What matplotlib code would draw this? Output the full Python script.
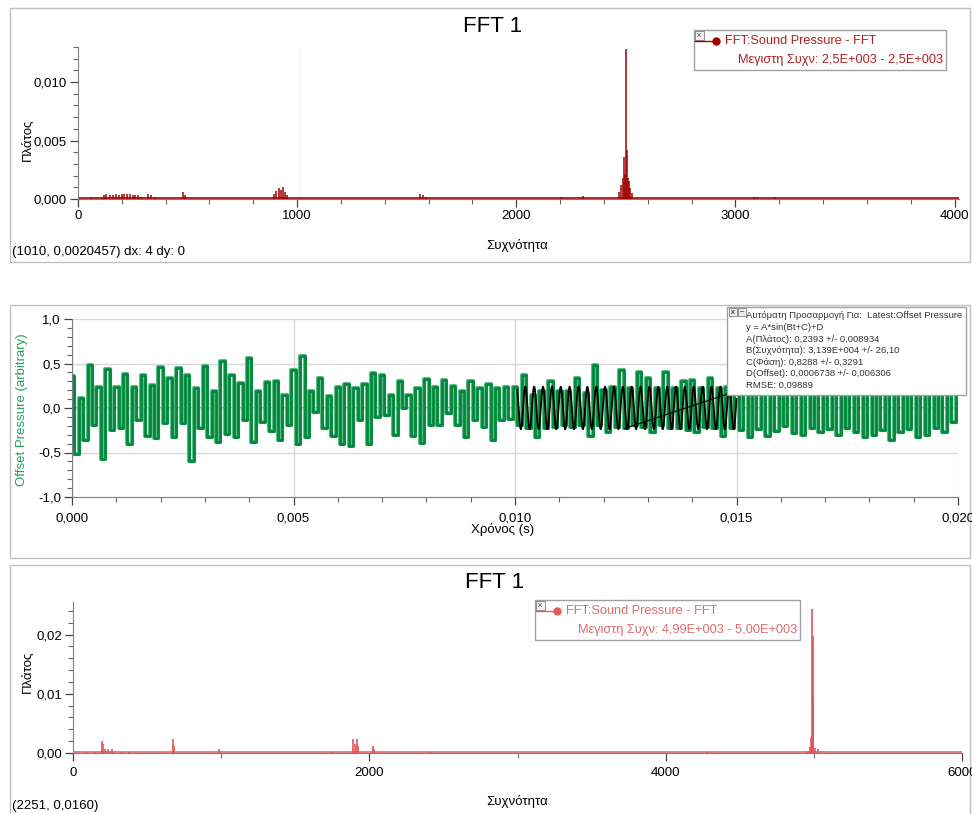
import matplotlib
matplotlib.use('Agg')
import matplotlib.pyplot as plt
from matplotlib.patches import Rectangle
from matplotlib.lines import Line2D
from matplotlib.ticker import MultipleLocator, FuncFormatter
import numpy as np

plt.rcParams['font.family'] = ['Liberation Sans', 'DejaVu Sans']

W, H = 972, 814

# ---- FFT 1 (top): spikes ----
top_freq = [60, 118, 130, 145, 160, 172, 185, 200, 212, 225, 238, 250, 262, 275, 288,
            318, 332, 350, 478, 490, 895, 905, 915, 925, 935, 945, 955,
            1560, 1572, 1590, 2205, 2305, 2468, 2479, 2486, 2490, 2496, 2500, 2503,
            2508, 2513, 2520, 2528, 3085, 3100, 3180]
top_amp = [0.00008, 0.0003, 0.0004, 0.00035, 0.0003, 0.0004, 0.00035, 0.0004, 0.00045, 0.0004,
           0.0004, 0.00035, 0.0003, 0.00035, 0.0002,
           0.0004, 0.00035, 0.0002, 0.0006, 0.0003, 0.0004, 0.0007, 0.00095, 0.0008, 0.001,
           0.0006, 0.0003,
           0.0004, 0.0003, 0.0002, 0.0002, 0.00025, 0.0006, 0.0012, 0.0018, 0.0036, 0.0021,
           0.0128, 0.0042, 0.0018, 0.0015, 0.0009, 0.0005, 0.0002, 0.0002, 0.00018]
top_floor = 0.00006

# ---- FFT 1 (bottom) ----
bot_freq = [90, 150, 194, 205, 215, 237, 264, 331, 378, 673, 680, 986, 1748,
            1892, 1905, 1915, 1926, 2022, 2030, 2412, 4281,
            4960, 4975, 4983, 4988, 4992, 4997, 5010, 5030]
bot_amp = [0.0002, 0.0002, 0.0021, 0.0016, 0.0007, 0.0006, 0.0006, 0.0002, 0.0002,
           0.0023, 0.0012, 0.0006, 0.0002,
           0.0024, 0.0015, 0.0023, 0.0011, 0.0011, 0.0006, 0.0002, 0.0002,
           0.0004, 0.0010, 0.0025, 0.0243, 0.0095, 0.0197, 0.0008, 0.0006]
bot_floor = 0.00012

# ---- Offset pressure, peaks and troughs read every 0.1 ms ----
pressure = [
    0.36, -0.52, 0.11, -0.36, 0.48, -0.19, 0.24, -0.57, 0.44, -0.25,
    0.24, -0.23, 0.38, -0.41, 0.24, -0.14, 0.37, -0.31, 0.26, -0.34,
    0.46, -0.17, 0.34, -0.33, 0.45, -0.17, 0.37, -0.59, 0.22, -0.23,
    0.47, -0.33, 0.19, -0.38, 0.53, -0.29, 0.37, -0.33, 0.28, -0.14,
    0.56, -0.38, 0.19, -0.16, 0.29, -0.26, 0.30, -0.36, 0.15, -0.19,
    0.43, -0.41, 0.58, -0.33, 0.19, -0.04, 0.34, -0.23, 0.13, -0.31,
    0.24, -0.40, 0.27, -0.43, 0.22, -0.14, 0.27, -0.41, 0.39, -0.10,
    0.37, -0.08, 0.15, -0.30, 0.30, 0.00, 0.15, -0.31, 0.22, -0.39,
    0.33, -0.19, 0.24, -0.19, 0.32, -0.06, 0.25, -0.19, 0.19, -0.33,
    0.30, -0.14, 0.23, -0.21, 0.27, -0.36, 0.23, -0.14, 0.24, -0.12,
    0.24, -0.19, 0.37, -0.23, 0.15, -0.33, 0.19, -0.22, 0.30, -0.21,
    0.19, -0.19, 0.19, -0.21, 0.34, -0.19, 0.17, -0.31, 0.48, -0.19,
    0.20, -0.27, 0.24, -0.21, 0.43, -0.23, 0.22, -0.19, 0.41, -0.21,
    0.34, -0.27, 0.22, -0.19, 0.41, -0.23, 0.22, -0.23, 0.30, -0.25,
    0.31, -0.27, 0.22, -0.21, 0.34, -0.23, 0.22, -0.31, 0.24, -0.23,
    0.30, -0.25, 0.26, -0.33, 0.35, -0.24, 0.22, -0.32, 0.28, -0.26,
    0.32, -0.20, 0.25, -0.28, 0.30, -0.30, 0.24, -0.22, 0.33, -0.27,
    0.27, -0.24, 0.22, -0.30, 0.31, -0.22, 0.26, -0.27, 0.29, -0.33,
    0.23, -0.30, 0.34, -0.25, 0.25, -0.36, 0.28, -0.27, 0.22, -0.24,
    0.30, -0.33, 0.26, -0.30, 0.24, -0.22, 0.29, -0.27, 0.20, -0.16,
    0.22]
t_start, t_end = 0.0, 0.020

# fit parameters from the annotation box
fit_A, fit_B, fit_C, fit_D = 0.2393, 3.139e4, 0.8288, 0.0006738
fit_range = (0.01005, 0.0150)
fit_tail_t = [0.01248, 0.01535]
fit_tail_y = [-0.23, 0.25]


def rect(l, t, r, b):
    return [l / W, 1 - b / H, (r - l) / W, (b - t) / H]


def px(x, y):
    return x / W, 1 - y / H


def comma(fmt):
    return FuncFormatter(lambda v, p: (fmt % v).replace('.', ','))


def style_axis(ax, pad=2):
    for s in ['top', 'right']:
        ax.spines[s].set_visible(False)
    for s in ['left', 'bottom']:
        ax.spines[s].set_color('#7f7f7f')
    ax.patch.set_visible(False)
    ax.tick_params(which='major', length=6, width=0.9, color='#444444', labelsize=9.5, pad=pad)
    ax.tick_params(which='minor', length=3.5, width=0.8, color='#666666')


fig = plt.figure(figsize=(W / 100, H / 100), dpi=100)

# panel frames
for (l, t, r, b) in [(10, 8, 970, 262), (10, 305, 970, 558), (10, 565, 970, 818)]:
    x0, y0 = px(l, b)
    fig.add_artist(Rectangle((x0, y0), (r - l) / W, (b - t) / H, fill=False,
                             edgecolor='#c0c0c0', lw=1, transform=fig.transFigure, zorder=0))


def legend_box(l, t, r, b, color, text_color, line2):
    x0, y0 = px(l, b)
    fig.add_artist(Rectangle((x0, y0), (r - l) / W, (b - t) / H, facecolor='white',
                             edgecolor='#a0a0a0', lw=1, transform=fig.transFigure, zorder=5))
    bx, by = px(l + 1, t + 10)
    fig.add_artist(Rectangle((bx, by), 9 / W, 9 / H, facecolor='#f0f0f0', edgecolor='#808080',
                             lw=0.6, transform=fig.transFigure, zorder=6))
    fig.text(*px(l + 5.5, t + 5.5), 'x', fontsize=6, ha='center', va='center', color='#444444', zorder=7)
    ya = t + 11
    fig.add_artist(Line2D([(l + 1) / W, (l + 21) / W], [1 - ya / H, 1 - ya / H], color=color,
                          lw=1, transform=fig.transFigure, zorder=6))
    fig.add_artist(Line2D([(l + 22) / W], [1 - ya / H], color=color, marker='o', ms=5,
                          transform=fig.transFigure, zorder=6))
    fig.text(*px(l + 31, ya), 'FFT:Sound Pressure - FFT', fontsize=9.2, color=text_color,
             ha='left', va='center', zorder=7)
    fig.text(*px(r - 3, t + 30), line2, fontsize=9.2, color=text_color,
             ha='right', va='center', zorder=7)


# ---------------- top FFT ----------------
ax1 = fig.add_axes(rect(78, 47, 959, 199))
style_axis(ax1)
ax1.axvline(1010, color='#f3f3f3', lw=1, zorder=0)
ax1.plot([0, 4020], [top_floor, top_floor], color='#a00000', lw=1.2)
ax1.vlines(top_freq, 0, top_amp, color='#a00000', lw=1.1)
ax1.set_xlim(0, 4020)
ax1.set_ylim(0, 0.013)
ax1.xaxis.set_major_locator(MultipleLocator(1000))
ax1.xaxis.set_minor_locator(MultipleLocator(200))
ax1.yaxis.set_major_locator(MultipleLocator(0.005))
ax1.yaxis.set_minor_locator(MultipleLocator(0.001))
ax1.xaxis.set_major_formatter(comma('%d'))
ax1.yaxis.set_major_formatter(comma('%.3f'))
fig.text(*px(493, 27), 'FFT 1', fontsize=16, ha='center', va='center')
fig.text(*px(517, 246), 'Συχνότητα', fontsize=9.5, ha='center', va='center')
fig.text(*px(28, 140), 'Πλάτος', fontsize=9.5, ha='center', va='center', rotation=90)
fig.text(*px(12, 252), '(1010, 0,0020457) dx: 4 dy: 0', fontsize=9.5, ha='left', va='center')
legend_box(694, 30, 946, 70, '#a00000', '#b02020', 'Μεγιστη Συχν: 2,5E+003 - 2,5E+003')

# ---------------- offset pressure ----------------
ax2 = fig.add_axes(rect(72, 319, 958, 497))
style_axis(ax2, pad=5)
t = np.linspace(t_start, t_end, len(pressure))
ax2.grid(True, which='major', color='#d8d8d8', lw=1)
ax2.axhline(0, color='#8a8a8a', lw=1.2, zorder=1)
ax2.plot(t, pressure, drawstyle='steps-mid', color='#62bb88', lw=3.0, zorder=2)
ax2.plot(t, pressure, drawstyle='steps-mid', color='#00893c', lw=2.0, zorder=2)
tf = np.linspace(fit_range[0], fit_range[1], 600)
ax2.plot(tf, fit_A * np.sin(fit_B * tf + fit_C) + fit_D, color='black', lw=1.3, zorder=3)
ax2.plot(fit_tail_t, fit_tail_y, color='black', lw=0.8, zorder=3)
ax2.set_xlim(0, 0.020)
ax2.set_ylim(-1, 1)
ax2.xaxis.set_major_locator(MultipleLocator(0.005))
ax2.xaxis.set_minor_locator(MultipleLocator(0.001))
ax2.yaxis.set_major_locator(MultipleLocator(0.5))
ax2.yaxis.set_minor_locator(MultipleLocator(0.1))
ax2.xaxis.set_major_formatter(comma('%.3f'))
ax2.yaxis.set_major_formatter(comma('%.1f'))
ax2.tick_params(axis='y', pad=2)
fig.text(*px(503, 530), 'Χρόνος (s)', fontsize=9.5, ha='center', va='center')
fig.text(*px(22, 410), 'Offset Pressure (arbitrary)', fontsize=9.5, ha='center', va='center',
         rotation=90, color='#1fa35a')

# fit box
x0, y0 = px(727, 395)
fig.add_artist(Rectangle((x0, y0), 239 / W, 88 / H, facecolor='white', edgecolor='#a0a0a0',
                         lw=1, transform=fig.transFigure, zorder=5))
for i, s in enumerate(['x', '–']):
    bx, by = px(729 + i * 9, 316)
    fig.add_artist(Rectangle((bx, by), 8 / W, 8 / H, facecolor='#ececec', edgecolor='#808080',
                             lw=0.6, transform=fig.transFigure, zorder=6))
    fig.text(*px(733 + i * 9, 312), s, fontsize=5.5, ha='center', va='center', zorder=7)
fit_lines = ['Αυτόματη Προσαρμογή Για:  Latest:Offset Pressure',
             'y = A*sin(Bt+C)+D',
             'A(Πλάτος): 0,2393 +/- 0,008934',
             'B(Συχνότητα): 3,139E+004 +/- 26,10',
             'C(Φάση): 0,8288 +/- 0,3291',
             'D(Offset): 0,0006738 +/- 0,006306',
             'RMSE: 0,09889']
for i, s in enumerate(fit_lines):
    fig.text(*px(746, 316 + i * 11.6), s, fontsize=6.8, ha='left',
             va='center', color='#333333', zorder=7)

# ---------------- bottom FFT ----------------
ax3 = fig.add_axes(rect(73, 602, 962, 753))
style_axis(ax3, pad=4)
ax3.plot([0, 6000], [bot_floor, bot_floor], color='#e06868', lw=1.2)
ax3.vlines(bot_freq, 0, bot_amp, color='#e05555', lw=1.2)
ax3.set_xlim(0, 6000)
ax3.set_ylim(0, 0.0255)
ax3.xaxis.set_major_locator(MultipleLocator(2000))
ax3.xaxis.set_minor_locator(MultipleLocator(1000))
ax3.yaxis.set_major_locator(MultipleLocator(0.01))
ax3.yaxis.set_minor_locator(MultipleLocator(0.002))
ax3.xaxis.set_major_formatter(comma('%d'))
ax3.yaxis.set_major_formatter(comma('%.2f'))
ax3.tick_params(axis='y', pad=2)
fig.text(*px(495, 583), 'FFT 1', fontsize=16, ha='center', va='center')
fig.text(*px(517, 801), 'Συχνότητα', fontsize=9.5, ha='center', va='center')
fig.text(*px(28, 672), 'Πλάτος', fontsize=9.5, ha='center', va='center', rotation=90)
fig.text(*px(12, 806), '(2251, 0,0160)', fontsize=9.5, ha='left', va='center')
legend_box(535, 600, 800, 640, '#e05a5a', '#e06a6a', 'Μεγιστη Συχν: 4,99E+003 - 5,00E+003')

fig.savefig('out.png', dpi=100)
